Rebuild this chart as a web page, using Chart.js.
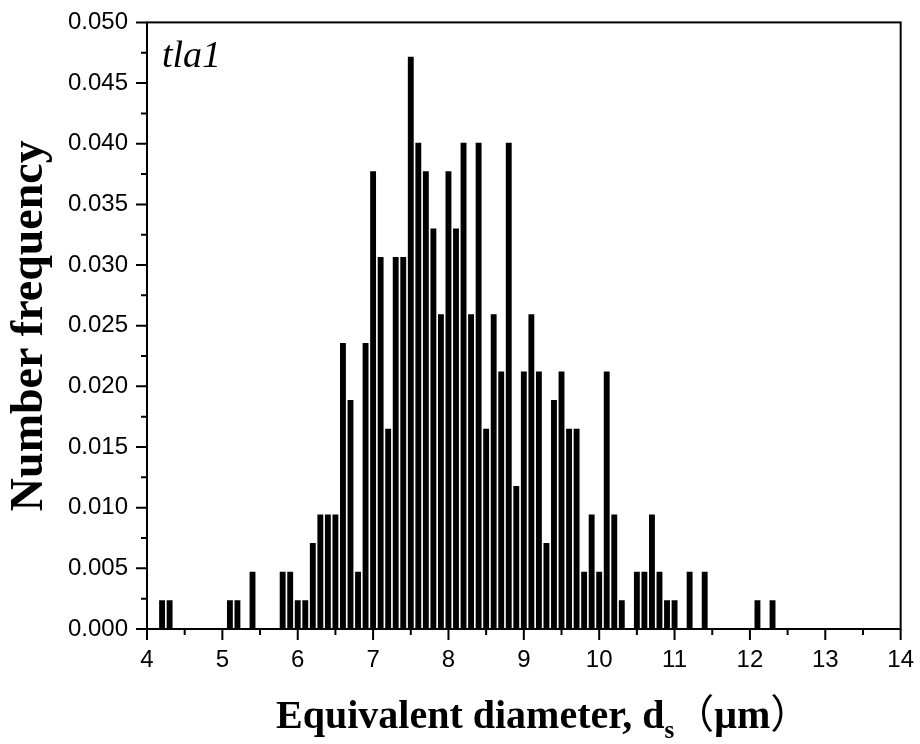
<!DOCTYPE html>
<html>
<head>
<meta charset="utf-8">
<script src="https://cdn.jsdelivr.net/npm/chart.js@4.4.0/dist/chart.umd.min.js"></script>
<style>
html, body { margin: 0; padding: 0; background: #fff; }
#wrap { width: 920px; height: 744px; }
</style>
</head>
<body>
<div id="wrap"><canvas id="chart" width="920" height="744"></canvas></div>
<script>
// bin centres (um) and number frequency
var diameters = [4.2, 4.3, 5.1, 5.2, 5.4, 5.8, 5.9,
  6.0, 6.1, 6.2, 6.3, 6.4, 6.5, 6.6, 6.7, 6.8, 6.9,
  7.0, 7.1, 7.2, 7.3, 7.4, 7.5, 7.6, 7.7, 7.8, 7.9,
  8.0, 8.1, 8.2, 8.3, 8.4, 8.5, 8.6, 8.7, 8.8, 8.9,
  9.0, 9.1, 9.2, 9.3, 9.4, 9.5, 9.6, 9.7, 9.8, 9.9,
  10.0, 10.1, 10.2, 10.3, 10.5, 10.6, 10.7, 10.8, 10.9,
  11.0, 11.2, 11.4, 12.1, 12.3];
var frequency = [0.00236, 0.00236, 0.00236, 0.00236, 0.00472, 0.00472, 0.00472,
  0.00236, 0.00236, 0.00708, 0.00943, 0.00943, 0.00943, 0.02358, 0.01887, 0.00472, 0.02358,
  0.03774, 0.03066, 0.01651, 0.03066, 0.03066, 0.04717, 0.04009, 0.03774, 0.03302, 0.02594,
  0.03774, 0.03302, 0.04009, 0.02594, 0.04009, 0.01651, 0.02594, 0.02123, 0.04009, 0.01179,
  0.02123, 0.02594, 0.02123, 0.00708, 0.01887, 0.02123, 0.01651, 0.01651, 0.00472, 0.00943,
  0.00472, 0.02123, 0.00943, 0.00236, 0.00472, 0.00472, 0.00943, 0.00472, 0.00236,
  0.00236, 0.00472, 0.00472, 0.00236, 0.00236];

var xMin = 4, xMax = 14, xStep = 0.5;
var yMin = 0, yMax = 0.05, yStep = 0.0025;
var sampleLabel = 'tla1';
var yTitle = 'Number frequency';

function isMult(v, m) {
  return Math.abs(v / m - Math.round(v / m)) < 1e-6;
}

var points = diameters.map(function (d, i) { return { x: d, y: frequency[i] }; });

// frame, tick marks and texts not handled by the axes
var decor = {
  id: 'decor',
  afterDraw: function (chart) {
    var ctx = chart.ctx, a = chart.chartArea;
    var xs = chart.scales.x, ys = chart.scales.y;
    ctx.save();
    ctx.strokeStyle = '#000';
    ctx.lineWidth = 2;
    ctx.strokeRect(a.left, a.top, a.right - a.left, a.bottom - a.top);
    ctx.beginPath();
    xs.ticks.forEach(function (t) {
      var p = xs.getPixelForValue(t.value);
      var len = isMult(t.value, 1) ? 11 : 6;
      ctx.moveTo(p, a.bottom);
      ctx.lineTo(p, a.bottom + len);
    });
    ys.ticks.forEach(function (t) {
      var p = ys.getPixelForValue(t.value);
      var len = isMult(t.value, 0.005) ? 11 : 6;
      ctx.moveTo(a.left, p);
      ctx.lineTo(a.left - len, p);
    });
    ctx.stroke();

    ctx.fillStyle = '#000';
    ctx.textBaseline = 'alphabetic';
    ctx.textAlign = 'left';
    ctx.font = 'italic 38px "Liberation Serif"';
    ctx.fillText(sampleLabel, a.left + 15, a.top + 45);

    // x title with subscript
    var base = 728, x = 276;
    var parts = [
      { t: 'Equivalent diameter, d', f: 'bold 40px "Liberation Serif"', dy: 0 },
      { t: 's', f: 'bold 25px "Liberation Serif"', dy: 10 },
      { t: '\uFF08', f: '40px "Noto Sans CJK SC"', dy: 0 },
      { t: '\u03BCm', f: 'bold 40px "Liberation Serif"', dy: 0 },
      { t: '\uFF09', f: '40px "Noto Sans CJK SC"', dy: 0 }
    ];
    parts.forEach(function (p) {
      ctx.font = p.f;
      ctx.fillText(p.t, x, base + p.dy);
      x += ctx.measureText(p.t).width;
    });
    ctx.restore();
  }
};

new Chart(document.getElementById('chart'), {
  type: 'bar',
  data: {
    datasets: [{
      data: points,
      backgroundColor: '#000',
      borderWidth: 0,
      barPercentage: 0.78,
      categoryPercentage: 1
    }]
  },
  options: {
    responsive: false,
    animation: false,
    layout: { padding: { left: 0, right: 17, top: 18, bottom: 0 } },
    plugins: { legend: { display: false }, tooltip: { enabled: false } },
    scales: {
      x: {
        type: 'linear',
        offset: false,
        min: xMin, max: xMax,
        afterFit: function (s) { s.height = 115; },
        border: { display: false },
        grid: { offset: false, drawOnChartArea: false, tickLength: 11, tickColor: 'rgba(0,0,0,0)' },
        ticks: {
          stepSize: xStep,
          autoSkip: false,
          maxRotation: 0,
          padding: 6,
          color: '#000',
          font: { family: 'Liberation Sans', size: 24 },
          callback: function (v) { return isMult(v, 1) ? String(Math.round(v)) : ''; }
        }
      },
      y: {
        min: yMin, max: yMax,
        afterFit: function (s) { s.width = 147; },
        border: { display: false },
        grid: { drawOnChartArea: false, tickLength: 11, tickColor: 'rgba(0,0,0,0)' },
        title: {
          display: true,
          text: yTitle,
          color: '#000',
          font: { family: 'Liberation Serif', size: 46, weight: 'bold', lineHeight: 1 },
          padding: { top: 7, bottom: 0 }
        },
        ticks: {
          stepSize: yStep,
          autoSkip: false,
          padding: 8,
          color: '#000',
          font: { family: 'Liberation Sans', size: 24 },
          callback: function (v) { return isMult(v, 0.005) ? v.toFixed(3) : ''; }
        }
      }
    }
  },
  plugins: [decor]
});
</script>
</body>
</html>
